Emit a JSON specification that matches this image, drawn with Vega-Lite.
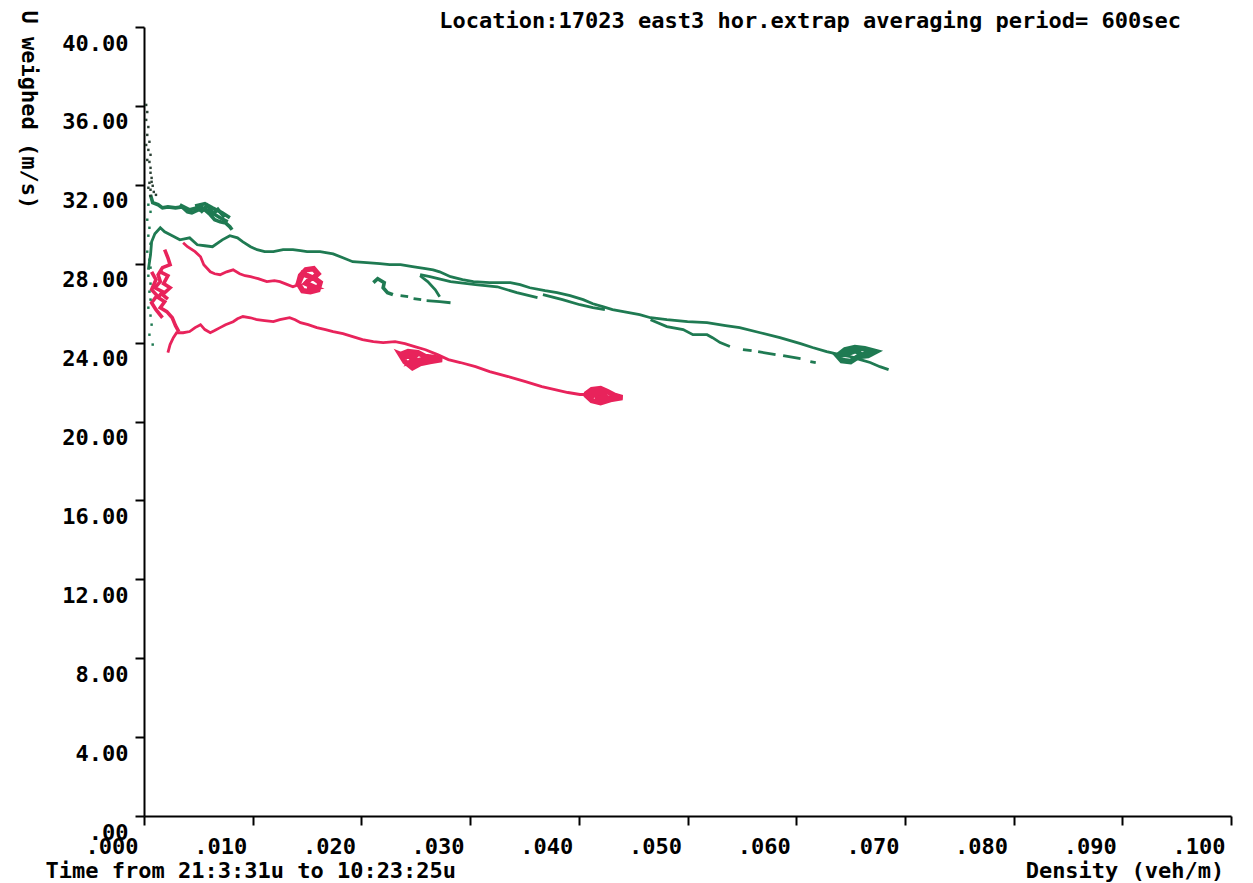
{
  "$schema": "https://vega.github.io/schema/vega-lite/v6.json",
  "autosize": {"type": "none"},
  "padding": {"left": 144, "top": 27, "right": 22, "bottom": 67},
  "width": 1087,
  "height": 789,
  "background": "white",
  "config": {
    "view": {"stroke": null},
    "font": "DejaVu Sans Mono",
    "axis": {
      "grid": false,
      "domainColor": "black",
      "domainWidth": 2,
      "tickColor": "black",
      "tickWidth": 2,
      "tickSize": 9,
      "labelFont": "DejaVu Sans Mono",
      "labelFontWeight": "bold",
      "labelFontSize": 22,
      "labelColor": "black",
      "labelFlush": false,
      "labelOverlap": false,
      "labelBound": false,
      "titleFont": "DejaVu Sans Mono",
      "titleFontWeight": "bold",
      "titleFontSize": 22,
      "titleColor": "black"
    }
  },
  "title": {
    "text": "Location:17023 east3 hor.extrap averaging period= 600sec",
    "anchor": "end",
    "frame": "group",
    "dx": -50,
    "dy": 40,
    "offset": 7,
    "baseline": "middle",
    "font": "DejaVu Sans Mono",
    "fontWeight": "bold",
    "fontSize": 22,
    "color": "black"
  },
  "datasets": {
    "lines": [
      {"s":"green","k":"G1","x":0.0004,"y":27.69},{"s":"green","k":"G1","x":0.0006,"y":28.45},{"s":"green","k":"G1","x":0.0007,"y":29.11},{"s":"green","k":"G1","x":0.0010,"y":29.52},{"s":"green","k":"G1","x":0.0015,"y":29.82},{"s":"green","k":"G1","x":0.0019,"y":29.62},{"s":"green","k":"G1","x":0.0026,"y":29.42},{"s":"green","k":"G1","x":0.0033,"y":29.21},{"s":"green","k":"G1","x":0.0042,"y":29.31},{"s":"green","k":"G1","x":0.0049,"y":28.96},{"s":"green","k":"G1","x":0.0056,"y":28.91},{"s":"green","k":"G1","x":0.0063,"y":28.86},{"s":"green","k":"G1","x":0.0072,"y":29.21},{"s":"green","k":"G1","x":0.0079,"y":29.42},{"s":"green","k":"G1","x":0.0086,"y":29.31},{"s":"green","k":"G1","x":0.0091,"y":29.11},{"s":"green","k":"G1","x":0.0098,"y":28.86},{"s":"green","k":"G1","x":0.0104,"y":28.71},{"s":"green","k":"G1","x":0.0111,"y":28.61},{"s":"green","k":"G1","x":0.0119,"y":28.61},{"s":"green","k":"G1","x":0.0128,"y":28.71},{"s":"green","k":"G1","x":0.0137,"y":28.71},{"s":"green","k":"G1","x":0.0144,"y":28.66},{"s":"green","k":"G1","x":0.0150,"y":28.61},{"s":"green","k":"G1","x":0.0162,"y":28.61},{"s":"green","k":"G1","x":0.0174,"y":28.50},{"s":"green","k":"G1","x":0.0183,"y":28.30},{"s":"green","k":"G1","x":0.0192,"y":28.10},{"s":"green","k":"G1","x":0.0205,"y":28.05},{"s":"green","k":"G1","x":0.0217,"y":28.00},{"s":"green","k":"G1","x":0.0226,"y":27.95},{"s":"green","k":"G1","x":0.0236,"y":27.95},{"s":"green","k":"G1","x":0.0247,"y":27.85},{"s":"green","k":"G1","x":0.0259,"y":27.75},{"s":"green","k":"G1","x":0.0266,"y":27.69},{"s":"green","k":"G1","x":0.0272,"y":27.59},{"s":"green","k":"G1","x":0.0282,"y":27.34},{"s":"green","k":"G1","x":0.0293,"y":27.19},{"s":"green","k":"G1","x":0.0303,"y":27.09},{"s":"green","k":"G1","x":0.0318,"y":27.04},{"s":"green","k":"G1","x":0.0337,"y":27.04},{"s":"green","k":"G1","x":0.0346,"y":26.94},{"s":"green","k":"G1","x":0.0355,"y":26.78},{"s":"green","k":"G1","x":0.0369,"y":26.63},{"s":"green","k":"G1","x":0.0380,"y":26.53},{"s":"green","k":"G1","x":0.0392,"y":26.38},{"s":"green","k":"G1","x":0.0404,"y":26.18},{"s":"green","k":"G1","x":0.0413,"y":25.97},{"s":"green","k":"G1","x":0.0422,"y":25.82},{"s":"green","k":"G1","x":0.0431,"y":25.67},{"s":"green","k":"G1","x":0.0441,"y":25.57},{"s":"green","k":"G1","x":0.0456,"y":25.42},{"s":"green","k":"G1","x":0.0466,"y":25.26},{"s":"green","k":"G1","x":0.0481,"y":25.16},{"s":"green","k":"G1","x":0.0500,"y":25.06},{"s":"green","k":"G1","x":0.0518,"y":25.01},{"s":"green","k":"G1","x":0.0535,"y":24.86},{"s":"green","k":"G1","x":0.0548,"y":24.76},{"s":"green","k":"G1","x":0.0567,"y":24.50},{"s":"green","k":"G1","x":0.0585,"y":24.25},{"s":"green","k":"G1","x":0.0604,"y":23.95},{"s":"green","k":"G1","x":0.0615,"y":23.75},{"s":"green","k":"G1","x":0.0628,"y":23.54},{"s":"green","k":"G1","x":0.0640,"y":23.39},{"s":"green","k":"G1","x":0.0650,"y":23.29},{"s":"green","k":"G1","x":0.0659,"y":23.14},{"s":"green","k":"G1","x":0.0668,"y":22.99},{"s":"green","k":"G1","x":0.0677,"y":22.78},{"s":"green","k":"G1","x":0.0685,"y":22.63},
      {"s":"green","k":"G2a","x":0.0254,"y":27.44},{"s":"green","k":"G2a","x":0.0263,"y":27.34},{"s":"green","k":"G2a","x":0.0282,"y":27.09},{"s":"green","k":"G2a","x":0.0305,"y":26.94},{"s":"green","k":"G2a","x":0.0325,"y":26.83},{"s":"green","k":"G2a","x":0.0343,"y":26.53},{"s":"green","k":"G2a","x":0.0362,"y":26.28},
      {"s":"green","k":"G2b","x":0.0367,"y":26.43},{"s":"green","k":"G2b","x":0.0385,"y":26.18},{"s":"green","k":"G2b","x":0.0401,"y":25.92},{"s":"green","k":"G2b","x":0.0413,"y":25.77},{"s":"green","k":"G2b","x":0.0424,"y":25.67},
      {"s":"green","k":"G3","x":0.0466,"y":25.16},{"s":"green","k":"G3","x":0.0481,"y":24.81},{"s":"green","k":"G3","x":0.0496,"y":24.66},{"s":"green","k":"G3","x":0.0505,"y":24.40},{"s":"green","k":"G3","x":0.0518,"y":24.40},{"s":"green","k":"G3","x":0.0523,"y":24.25},{"s":"green","k":"G3","x":0.0530,"y":24.00},{"s":"green","k":"G3","x":0.0539,"y":23.80},
      {"s":"green","k":"G4","x":0.0551,"y":23.64},{"s":"green","k":"G4","x":0.0559,"y":23.59},
      {"s":"green","k":"G5","x":0.0565,"y":23.54},{"s":"green","k":"G5","x":0.0581,"y":23.39},
      {"s":"green","k":"G6","x":0.0588,"y":23.34},{"s":"green","k":"G6","x":0.0604,"y":23.19},
      {"s":"green","k":"G7","x":0.0613,"y":23.04},{"s":"green","k":"G7","x":0.0618,"y":22.99},
      {"s":"green","k":"G8b","x":0.0236,"y":26.38},{"s":"green","k":"G8b","x":0.0243,"y":26.33},
      {"s":"green","k":"G8c","x":0.0248,"y":26.23},{"s":"green","k":"G8c","x":0.0255,"y":26.18},
      {"s":"green","k":"G8d","x":0.0260,"y":26.13},{"s":"green","k":"G8d","x":0.0272,"y":26.08},{"s":"green","k":"G8d","x":0.0282,"y":26.02},
      {"s":"green","k":"G8e","x":0.0254,"y":27.39},{"s":"green","k":"G8e","x":0.0261,"y":27.09},{"s":"green","k":"G8e","x":0.0268,"y":26.68},{"s":"green","k":"G8e","x":0.0272,"y":26.33},
      {"s":"red","k":"R1","x":0.0036,"y":29.06},{"s":"red","k":"R1","x":0.0040,"y":28.86},{"s":"red","k":"R1","x":0.0047,"y":28.61},{"s":"red","k":"R1","x":0.0052,"y":28.35},{"s":"red","k":"R1","x":0.0055,"y":27.95},{"s":"red","k":"R1","x":0.0061,"y":27.59},{"s":"red","k":"R1","x":0.0065,"y":27.49},{"s":"red","k":"R1","x":0.0070,"y":27.44},{"s":"red","k":"R1","x":0.0076,"y":27.59},{"s":"red","k":"R1","x":0.0082,"y":27.69},{"s":"red","k":"R1","x":0.0088,"y":27.49},{"s":"red","k":"R1","x":0.0093,"y":27.39},{"s":"red","k":"R1","x":0.0098,"y":27.34},{"s":"red","k":"R1","x":0.0105,"y":27.24},{"s":"red","k":"R1","x":0.0113,"y":27.09},{"s":"red","k":"R1","x":0.0120,"y":27.14},{"s":"red","k":"R1","x":0.0125,"y":27.09},{"s":"red","k":"R1","x":0.0132,"y":26.94},{"s":"red","k":"R1","x":0.0137,"y":26.83},{"s":"red","k":"R1","x":0.0142,"y":26.94},
      {"s":"red","k":"R3","x":0.0022,"y":23.49},{"s":"red","k":"R3","x":0.0024,"y":23.90},{"s":"red","k":"R3","x":0.0027,"y":24.25},{"s":"red","k":"R3","x":0.0030,"y":24.50},{"s":"red","k":"R3","x":0.0036,"y":24.50},{"s":"red","k":"R3","x":0.0042,"y":24.56},{"s":"red","k":"R3","x":0.0047,"y":24.76},{"s":"red","k":"R3","x":0.0052,"y":24.91},{"s":"red","k":"R3","x":0.0056,"y":24.66},{"s":"red","k":"R3","x":0.0061,"y":24.50},{"s":"red","k":"R3","x":0.0065,"y":24.61},{"s":"red","k":"R3","x":0.0070,"y":24.76},{"s":"red","k":"R3","x":0.0075,"y":24.91},{"s":"red","k":"R3","x":0.0082,"y":25.06},{"s":"red","k":"R3","x":0.0086,"y":25.21},{"s":"red","k":"R3","x":0.0091,"y":25.32},{"s":"red","k":"R3","x":0.0098,"y":25.26},{"s":"red","k":"R3","x":0.0104,"y":25.16},{"s":"red","k":"R3","x":0.0111,"y":25.11},{"s":"red","k":"R3","x":0.0119,"y":25.06},{"s":"red","k":"R3","x":0.0125,"y":25.16},{"s":"red","k":"R3","x":0.0134,"y":25.26},{"s":"red","k":"R3","x":0.0139,"y":25.16},{"s":"red","k":"R3","x":0.0144,"y":25.01},{"s":"red","k":"R3","x":0.0151,"y":24.91},{"s":"red","k":"R3","x":0.0159,"y":24.76},{"s":"red","k":"R3","x":0.0167,"y":24.66},{"s":"red","k":"R3","x":0.0174,"y":24.56},{"s":"red","k":"R3","x":0.0183,"y":24.45},{"s":"red","k":"R3","x":0.0192,"y":24.30},{"s":"red","k":"R3","x":0.0201,"y":24.15},{"s":"red","k":"R3","x":0.0211,"y":24.05},{"s":"red","k":"R3","x":0.0220,"y":24.00},{"s":"red","k":"R3","x":0.0231,"y":24.05},{"s":"red","k":"R3","x":0.0240,"y":23.95},{"s":"red","k":"R3","x":0.0249,"y":23.80},{"s":"red","k":"R3","x":0.0259,"y":23.64},{"s":"red","k":"R3","x":0.0270,"y":23.39},{"s":"red","k":"R3","x":0.0280,"y":23.14},{"s":"red","k":"R3","x":0.0291,"y":22.99},{"s":"red","k":"R3","x":0.0305,"y":22.78},{"s":"red","k":"R3","x":0.0318,"y":22.53},{"s":"red","k":"R3","x":0.0335,"y":22.28},{"s":"red","k":"R3","x":0.0351,"y":22.02},{"s":"red","k":"R3","x":0.0366,"y":21.77},{"s":"red","k":"R3","x":0.0378,"y":21.62},{"s":"red","k":"R3","x":0.0390,"y":21.47},{"s":"red","k":"R3","x":0.0401,"y":21.37},{"s":"red","k":"R3","x":0.0415,"y":21.37},{"s":"red","k":"R3","x":0.0427,"y":21.26},{"s":"red","k":"R3","x":0.0440,"y":21.21}
    ],
    "bushy": [
      {"s":"green","k":"G9","x":0.0006,"y":31.49},{"s":"green","k":"G9","x":0.0008,"y":31.09},{"s":"green","k":"G9","x":0.0013,"y":30.99},{"s":"green","k":"G9","x":0.0017,"y":30.83},{"s":"green","k":"G9","x":0.0022,"y":30.88},{"s":"green","k":"G9","x":0.0029,"y":30.83},{"s":"green","k":"G9","x":0.0035,"y":30.88},{"s":"green","k":"G9","x":0.0040,"y":30.63},{"s":"green","k":"G9","x":0.0044,"y":30.58},{"s":"green","k":"G9","x":0.0050,"y":30.73},{"s":"green","k":"G9","x":0.0056,"y":30.73},{"s":"green","k":"G9","x":0.0061,"y":30.48},{"s":"green","k":"G9","x":0.0065,"y":30.23},{"s":"green","k":"G9","x":0.0070,"y":30.12},{"s":"green","k":"G9","x":0.0075,"y":30.07},{"s":"green","k":"G9","x":0.0079,"y":29.87},{"s":"green","k":"G9","x":0.0081,"y":29.72},
      {"s":"green","k":"G9b","x":0.0033,"y":30.99},{"s":"green","k":"G9b","x":0.0042,"y":30.73},{"s":"green","k":"G9b","x":0.0052,"y":30.88},{"s":"green","k":"G9b","x":0.0061,"y":30.63},{"s":"green","k":"G9b","x":0.0070,"y":30.33},{"s":"green","k":"G9b","x":0.0077,"y":30.12},
      {"s":"green","k":"G9c","x":0.0047,"y":30.93},{"s":"green","k":"G9c","x":0.0056,"y":31.04},{"s":"green","k":"G9c","x":0.0063,"y":30.83},{"s":"green","k":"G9c","x":0.0072,"y":30.58},{"s":"green","k":"G9c","x":0.0079,"y":30.33},
      {"s":"green","k":"G9d","x":0.0052,"y":30.60},{"s":"green","k":"G9d","x":0.0058,"y":30.95},{"s":"green","k":"G9d","x":0.0064,"y":30.55},{"s":"green","k":"G9d","x":0.0068,"y":30.75},{"s":"green","k":"G9d","x":0.0074,"y":30.35},
      {"s":"green","k":"G8a","x":0.0211,"y":27.04},{"s":"green","k":"G8a","x":0.0215,"y":27.24},{"s":"green","k":"G8a","x":0.0221,"y":27.04},{"s":"green","k":"G8a","x":0.0220,"y":26.78},{"s":"green","k":"G8a","x":0.0224,"y":26.53},{"s":"green","k":"G8a","x":0.0229,"y":26.43},
      {"s":"red","k":"R2","x":0.0019,"y":28.71},{"s":"red","k":"R2","x":0.0022,"y":28.30},{"s":"red","k":"R2","x":0.0024,"y":27.95},{"s":"red","k":"R2","x":0.0017,"y":27.80},{"s":"red","k":"R2","x":0.0013,"y":27.44},{"s":"red","k":"R2","x":0.0015,"y":27.09},{"s":"red","k":"R2","x":0.0010,"y":26.78},{"s":"red","k":"R2","x":0.0017,"y":26.58},{"s":"red","k":"R2","x":0.0013,"y":26.28},{"s":"red","k":"R2","x":0.0019,"y":26.07},{"s":"red","k":"R2","x":0.0015,"y":25.77},{"s":"red","k":"R2","x":0.0021,"y":25.57},{"s":"red","k":"R2","x":0.0026,"y":25.26},{"s":"red","k":"R2","x":0.0029,"y":24.86},{"s":"red","k":"R2","x":0.0032,"y":24.56},
      {"s":"red","k":"R2b","x":0.0007,"y":27.59},{"s":"red","k":"R2b","x":0.0011,"y":27.19},{"s":"red","k":"R2b","x":0.0007,"y":26.68},{"s":"red","k":"R2b","x":0.0012,"y":26.38},{"s":"red","k":"R2b","x":0.0007,"y":26.02},{"s":"red","k":"R2b","x":0.0011,"y":25.67},{"s":"red","k":"R2b","x":0.0017,"y":25.26},
      {"s":"red","k":"R2c","x":0.0015,"y":27.59},{"s":"red","k":"R2c","x":0.0022,"y":27.39},{"s":"red","k":"R2c","x":0.0018,"y":26.99},{"s":"red","k":"R2c","x":0.0024,"y":26.78},{"s":"red","k":"R2c","x":0.0017,"y":26.43},{"s":"red","k":"R2c","x":0.0022,"y":26.20}
    ],
    "blobs": [
      {"s":"green","k":"GB","x":0.0638,"y":23.34},{"s":"green","k":"GB","x":0.0645,"y":23.64},{"s":"green","k":"GB","x":0.0654,"y":23.75},{"s":"green","k":"GB","x":0.0663,"y":23.69},{"s":"green","k":"GB","x":0.0673,"y":23.54},{"s":"green","k":"GB","x":0.0666,"y":23.34},{"s":"green","k":"GB","x":0.0657,"y":23.29},{"s":"green","k":"GB","x":0.0650,"y":23.04},{"s":"green","k":"GB","x":0.0642,"y":23.09},{"s":"green","k":"GB","x":0.0638,"y":23.34},{"s":"green","k":"GB","x":0.0645,"y":23.40},{"s":"green","k":"GB","x":0.0655,"y":23.60},{"s":"green","k":"GB","x":0.0660,"y":23.35},{"s":"green","k":"GB","x":0.0668,"y":23.50},
      {"s":"red","k":"RB1","x":0.0142,"y":26.99},{"s":"red","k":"RB1","x":0.0144,"y":27.39},{"s":"red","k":"RB1","x":0.0149,"y":27.69},{"s":"red","k":"RB1","x":0.0156,"y":27.75},{"s":"red","k":"RB1","x":0.0160,"y":27.49},{"s":"red","k":"RB1","x":0.0156,"y":27.29},{"s":"red","k":"RB1","x":0.0162,"y":27.04},{"s":"red","k":"RB1","x":0.0160,"y":26.68},{"s":"red","k":"RB1","x":0.0153,"y":26.58},{"s":"red","k":"RB1","x":0.0146,"y":26.63},{"s":"red","k":"RB1","x":0.0142,"y":26.99},{"s":"red","k":"RB1","x":0.0146,"y":27.50},{"s":"red","k":"RB1","x":0.0154,"y":27.30},{"s":"red","k":"RB1","x":0.0149,"y":27.00},{"s":"red","k":"RB1","x":0.0157,"y":26.80},{"s":"red","k":"RB1","x":0.0150,"y":26.75},
      {"s":"red","k":"RB2","x":0.0236,"y":23.39},{"s":"red","k":"RB2","x":0.0243,"y":23.54},{"s":"red","k":"RB2","x":0.0252,"y":23.49},{"s":"red","k":"RB2","x":0.0259,"y":23.29},{"s":"red","k":"RB2","x":0.0268,"y":23.24},{"s":"red","k":"RB2","x":0.0274,"y":23.14},{"s":"red","k":"RB2","x":0.0263,"y":23.04},{"s":"red","k":"RB2","x":0.0254,"y":22.94},{"s":"red","k":"RB2","x":0.0247,"y":22.73},{"s":"red","k":"RB2","x":0.0240,"y":23.04},{"s":"red","k":"RB2","x":0.0236,"y":23.39},{"s":"red","k":"RB2","x":0.0240,"y":23.30},{"s":"red","k":"RB2","x":0.0250,"y":23.35},{"s":"red","k":"RB2","x":0.0245,"y":23.00},{"s":"red","k":"RB2","x":0.0258,"y":23.15},{"s":"red","k":"RB2","x":0.0265,"y":23.15},
      {"s":"red","k":"RB3","x":0.0406,"y":21.37},{"s":"red","k":"RB3","x":0.0412,"y":21.62},{"s":"red","k":"RB3","x":0.0420,"y":21.67},{"s":"red","k":"RB3","x":0.0426,"y":21.52},{"s":"red","k":"RB3","x":0.0433,"y":21.32},{"s":"red","k":"RB3","x":0.0440,"y":21.21},{"s":"red","k":"RB3","x":0.0429,"y":21.11},{"s":"red","k":"RB3","x":0.0420,"y":20.96},{"s":"red","k":"RB3","x":0.0412,"y":21.06},{"s":"red","k":"RB3","x":0.0406,"y":21.37},{"s":"red","k":"RB3","x":0.0410,"y":21.25},{"s":"red","k":"RB3","x":0.0420,"y":21.50},{"s":"red","k":"RB3","x":0.0425,"y":21.20},{"s":"red","k":"RB3","x":0.0415,"y":21.15}
    ],
    "dots": [
      {"s":"dark","x":0.0002,"y":36.05},{"s":"dark","x":0.0003,"y":35.69},{"s":"dark","x":0.0002,"y":35.29},{"s":"dark","x":0.0004,"y":34.93},{"s":"dark","x":0.0003,"y":34.53},{"s":"dark","x":0.0005,"y":34.18},{"s":"dark","x":0.0004,"y":33.77},{"s":"dark","x":0.0006,"y":33.52},{"s":"dark","x":0.0005,"y":33.16},{"s":"dark","x":0.0006,"y":32.86},{"s":"dark","x":0.0006,"y":32.61},{"s":"dark","x":0.0007,"y":32.35},{"s":"dark","x":0.0005,"y":32.10},{"s":"dark","x":0.0008,"y":31.95},{"s":"dark","x":0.0006,"y":31.75},{"s":"dark","x":0.0009,"y":31.64},{"s":"dark","x":0.0006,"y":31.44},{"s":"dark","x":0.0011,"y":31.49},{"s":"dark","x":0.0004,"y":31.85},{"s":"dark","x":0.0007,"y":32.15},{"s":"dark","x":0.0003,"y":33.26},{"s":"dark","x":0.0002,"y":34.02},
      {"s":"green","x":0.0004,"y":30.99},{"s":"green","x":0.0006,"y":30.63},{"s":"green","x":0.0003,"y":30.23},{"s":"green","x":0.0005,"y":29.82},{"s":"green","x":0.0004,"y":29.42},{"s":"green","x":0.0006,"y":29.01},{"s":"green","x":0.0003,"y":28.61},{"s":"green","x":0.0005,"y":28.20},{"s":"green","x":0.0006,"y":27.80},{"s":"green","x":0.0004,"y":27.39},{"s":"green","x":0.0006,"y":26.99},{"s":"green","x":0.0005,"y":26.58},{"s":"green","x":0.0006,"y":26.18},{"s":"green","x":0.0004,"y":25.77},{"s":"green","x":0.0006,"y":25.37},{"s":"green","x":0.0007,"y":24.91},{"s":"green","x":0.0005,"y":24.40},{"s":"green","x":0.0008,"y":23.90}
    ]
  },
  "encoding": {
    "x": {
      "field": "x", "type": "quantitative",
      "scale": {"domain": [0, 0.1], "nice": false, "zero": false},
      "axis": {
        "values": [0, 0.01, 0.02, 0.03, 0.04, 0.05, 0.06, 0.07, 0.08, 0.09, 0.1],
        "labelExpr": "substring(format(datum.value, '.3f'), 1)",
        "labelAlign": "right",
        "labelBaseline": "middle",
        "labelOffset": -6,
        "labelPadding": 21,
        "title": "Time from 21:3:31u to 10:23:25u\u00a0\u00a0\u00a0\u00a0\u00a0\u00a0\u00a0\u00a0\u00a0\u00a0\u00a0\u00a0\u00a0\u00a0\u00a0\u00a0\u00a0\u00a0\u00a0\u00a0\u00a0\u00a0\u00a0\u00a0\u00a0\u00a0\u00a0\u00a0\u00a0\u00a0\u00a0\u00a0\u00a0\u00a0\u00a0\u00a0\u00a0\u00a0\u00a0\u00a0\u00a0\u00a0\u00a0Density (veh/m)",
        "titleAnchor": "start",
        "titleAlign": "left",
        "titleBaseline": "middle",
        "titleX": -99,
        "titleY": 54
      }
    },
    "y": {
      "field": "y", "type": "quantitative",
      "scale": {"domain": [0, 40], "nice": false, "zero": false},
      "axis": {
        "values": [0, 4, 8, 12, 16, 20, 24, 28, 32, 36, 40],
        "labelExpr": "datum.value == 0 ? '.00' : format(datum.value, '.2f')",
        "labelAlign": "right",
        "labelBaseline": "middle",
        "labelOffset": 16,
        "labelPadding": 7,
        "title": "U weighed (m/s)",
        "titleAngle": 90,
        "titleAlign": "left",
        "titleBaseline": "middle",
        "titleX": -116,
        "titleY": -17
      }
    },
    "color": {
      "field": "s", "type": "nominal", "legend": null,
      "scale": {"domain": ["green", "red", "dark"], "range": ["#1f7a52", "#e8235b", "#2b4034"]}
    }
  },
  "layer": [
    {
      "data": {"name": "lines"},
      "mark": {"type": "line", "strokeWidth": 2.8, "clip": true},
      "encoding": {"detail": {"field": "k"}, "order": {"value": null}}
    },
    {
      "data": {"name": "bushy"},
      "mark": {"type": "line", "strokeWidth": 3.6, "clip": true},
      "encoding": {"detail": {"field": "k"}, "order": {"value": null}}
    },
    {
      "data": {"name": "blobs"},
      "mark": {"type": "line", "strokeWidth": 5.5, "clip": true},
      "encoding": {"detail": {"field": "k"}, "order": {"value": null}}
    },
    {
      "data": {"name": "dots"},
      "mark": {"type": "square", "size": 6, "opacity": 1, "filled": true},
      "encoding": {}
    }
  ]
}
